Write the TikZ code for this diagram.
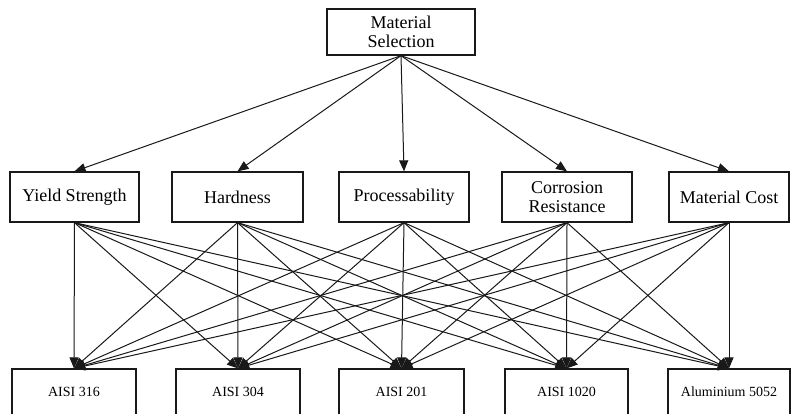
\documentclass[tikz,border=0pt]{standalone}
\usepackage{fontspec}
\setmainfont{Liberation Serif}
\usetikzlibrary{arrows.meta}
\begin{document}
\begin{tikzpicture}[x=1pt,y=-1pt,
  box/.style={draw=black!90, line width=1.3pt, inner sep=0pt, align=center,
    font=\fontsize{18}{19.5}\selectfont},
  mid/.style={box, minimum height=50pt},
  leaf/.style={draw=black!90, line width=1.2pt, inner sep=0pt, minimum height=46pt,
    font=\fontsize{14}{15}\selectfont},
  arr/.style={draw=black!90, line width=1pt, -{Triangle[length=11pt,width=9pt]}}]
\useasboundingbox (0,0) rectangle (791,413);
\clip (0,0) rectangle (791,413);
\fill[white] (0,0) rectangle (791,413);
% top
\node[box, minimum width=148pt, minimum height=46pt] (ms) at (401,32) {Material\\Selection};
% criteria
\node[mid, minimum width=129pt] (ys) at (74.5,197) {Yield Strength};
\node[mid, minimum width=131pt] (hd) at (237.5,197) {Hardness};
\node[mid, minimum width=130pt] (pr) at (404,197) {Processability};
\node[mid, minimum width=130pt] (cr) at (567,197) {Corrosion\\Resistance};
\node[mid, minimum width=120pt] (mc) at (729,197) {Material Cost};
% alternatives
\node[leaf, minimum width=124pt] (b1) at (74,392) {AISI 316};
\node[leaf, minimum width=124pt] (b2) at (238,392) {AISI 304};
\node[leaf, minimum width=125pt] (b3) at (401.5,392) {AISI 201};
\node[leaf, minimum width=123pt] (b4) at (566.5,392) {AISI 1020};
\node[leaf, minimum width=122pt] (b5) at (729,392) {Aluminium 5052};
% arrows
\foreach \m in {ys,hd,pr,cr,mc}{
  \draw[arr] (ms.south) -- (\m.north);
  \foreach \b in {b1,b2,b3,b4,b5}{
    \draw[arr] (\m.south) -- (\b.north);
  }
}
\end{tikzpicture}
\end{document}
